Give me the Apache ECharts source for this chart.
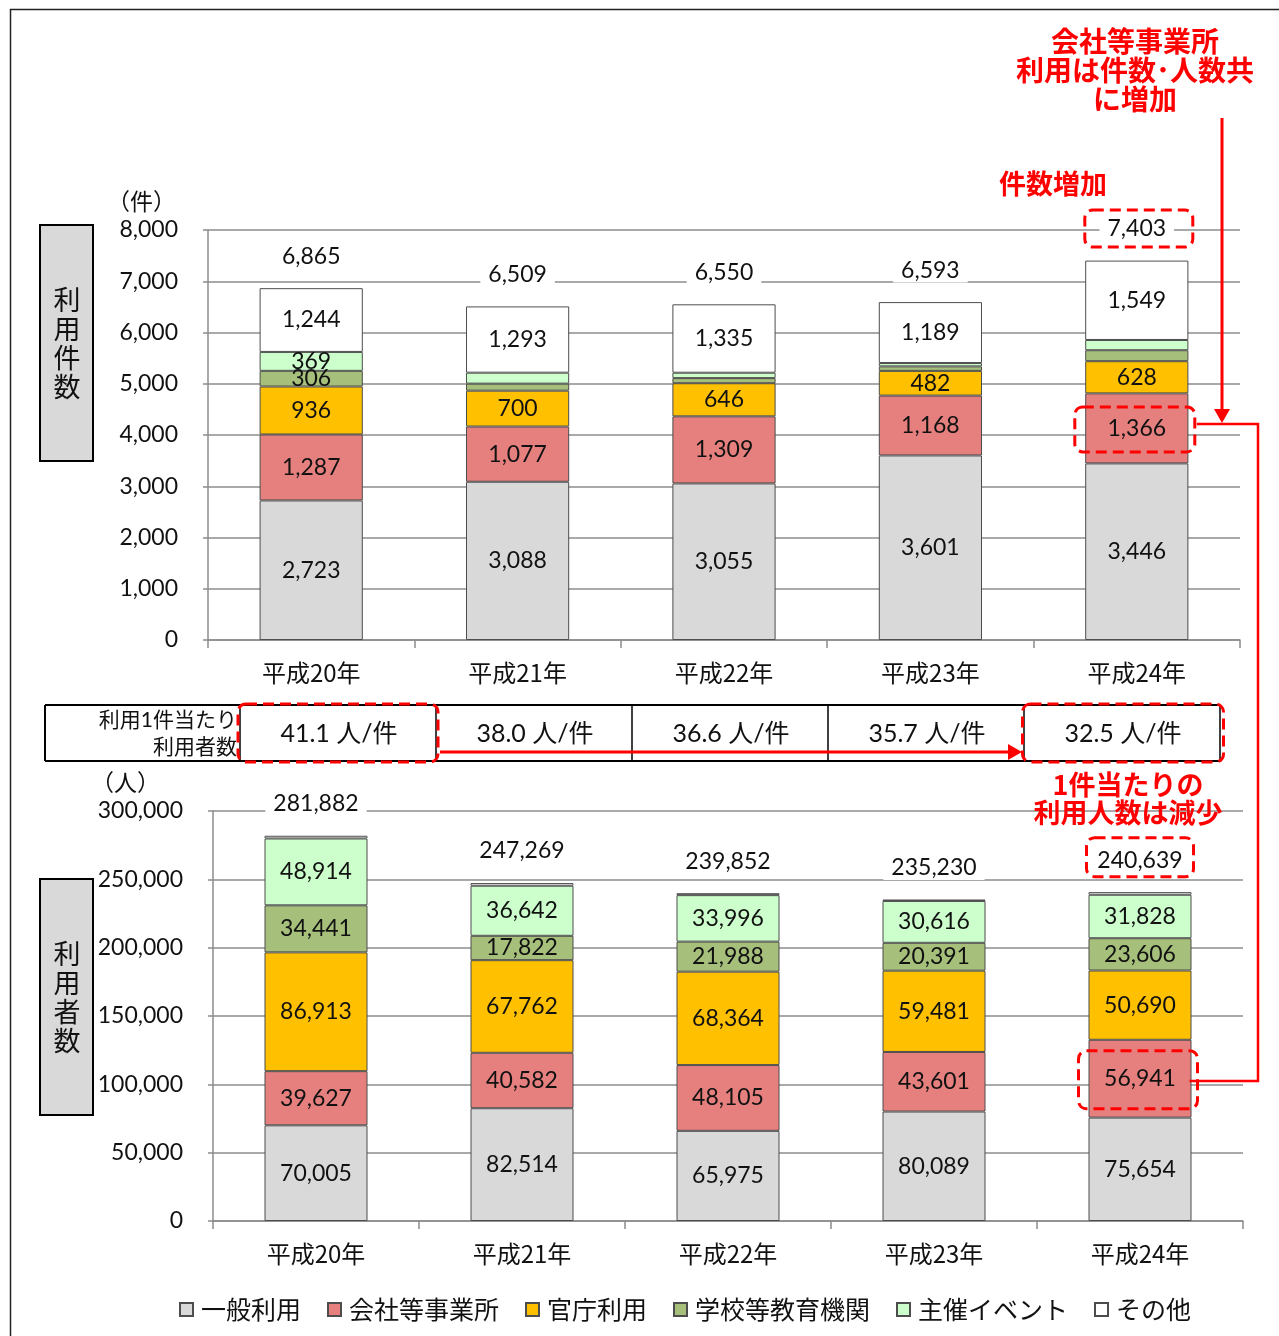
<!DOCTYPE html>
<html>
<head>
<meta charset="utf-8">
<script src="https://cdn.jsdelivr.net/npm/echarts@6/dist/echarts.min.js"></script>
<style>
  html, body { margin: 0; padding: 0; background: #fff; }
  #chart { width: 1279px; height: 1336px; }
</style>
</head>
<body>
<div id="chart"></div>
<script>
// ---- data -------------------------------------------------------------
const years = ['平成20年', '平成21年', '平成22年', '平成23年', '平成24年'];
const seriesNames = ['一般利用', '会社等事業所', '官庁利用', '学校等教育機関', '主催イベント', 'その他'];

// 利用件数 (件)
const casesGeneral = [2723, 3088, 3055, 3601, 3446];
const casesCompany = [1287, 1077, 1309, 1168, 1366];
const casesGov     = [936, 700, 646, 482, 628];
const casesSchool  = [306, 137, 100, 88, 214];
const casesEvent   = [369, 214, 105, 65, 200];
const casesOther   = [1244, 1293, 1335, 1189, 1549];
const casesTotal   = [6865, 6509, 6550, 6593, 7403];

// 利用者数 (人)
const usersGeneral = [70005, 82514, 65975, 80089, 75654];
const usersCompany = [39627, 40582, 48105, 43601, 56941];
const usersGov     = [86913, 67762, 68364, 59481, 50690];
const usersSchool  = [34441, 17822, 21988, 20391, 23606];
const usersEvent   = [48914, 36642, 33996, 30616, 31828];
const usersOther   = [1982, 1947, 1424, 1052, 1920];
const usersTotal   = [281882, 247269, 239852, 235230, 240639];

// 利用1件当たり利用者数 (人/件)
const perCase = ['41.1', '38.0', '36.6', '35.7', '32.5'];

// axis ranges
const casesAxis = { min: 0, max: 8000, interval: 1000 };
const usersAxis = { min: 0, max: 300000, interval: 50000 };

// ---- style ------------------------------------------------------------
const FONT = 'Lato, "Noto Sans CJK JP", sans-serif';
const JFONT = '"Noto Sans CJK JP", sans-serif';
const RED = '#ff0000';
const colors = ['#d9d9d9', '#e5807e', '#ffc000', '#a6c07b', '#ccffcc', '#ffffff'];
const gridColor = '#8c8c8c';
const fmt = v => Number(v).toLocaleString('en-US');

const chart = echarts.init(document.getElementById('chart'), null, { renderer: 'canvas' });

function stackSeries(arrs, g, minLabel) {
  return arrs.map((d, i) => ({
    name: seriesNames[i],
    type: 'bar',
    stack: 'total' + g,
    xAxisIndex: g,
    yAxisIndex: g,
    barWidth: '50%',
    data: d,
    itemStyle: { color: colors[i], borderColor: '#4d4d4d', borderWidth: 1 },
    label: {
      show: true,
      position: 'inside',
      fontFamily: FONT,
      fontSize: 23,
      color: '#111',
      formatter: p => (p.value >= minLabel ? fmt(p.value) : '')
    },
    emphasis: { disabled: true }
  }));
}

function totalSeries(data, g) {
  return {
    type: 'scatter',
    xAxisIndex: g,
    yAxisIndex: g,
    data: data,
    symbolSize: 1,
    itemStyle: { color: 'rgba(0,0,0,0)', opacity: 1 },
    z: 10,
    label: {
      show: true,
      position: 'top',
      distance: 19,
      fontFamily: FONT,
      fontSize: 23,
      color: '#111',
      opacity: 1,
      backgroundColor: '#fff',
      padding: [1, 8],
      formatter: p => fmt(p.value)
    },
    emphasis: { disabled: true }
  };
}

function valueAxis(g, range, name, namePad) {
  return {
    type: 'value',
    gridIndex: g,
    min: range.min, max: range.max, interval: range.interval,
    name: name,
    nameLocation: 'end',
    nameGap: 17,
    nameTextStyle: { fontFamily: JFONT, fontSize: 23, color: '#111', align: 'right', padding: [0, namePad, 0, 0] },
    axisLine: { show: true, lineStyle: { color: gridColor, width: 1.5 } },
    axisTick: { show: true, length: 5, lineStyle: { color: gridColor, width: 1.5 } },
    splitLine: { show: true, lineStyle: { color: gridColor, width: 1.5 } },
    axisLabel: { fontFamily: FONT, fontSize: 23, color: '#111', margin: 30, formatter: v => fmt(v) }
  };
}

function catAxis(g) {
  return {
    type: 'category',
    gridIndex: g,
    data: years,
    axisLine: { show: true, lineStyle: { color: gridColor, width: 1.5 } },
    axisTick: { show: true, length: 8, lineStyle: { color: gridColor, width: 1.5 } },
    axisLabel: { fontFamily: JFONT, fontSize: 24, color: '#111', margin: 21 }
  };
}

const option = {
  animation: false,
  backgroundColor: '#fff',
  grid: [
    { left: 208, top: 230, width: 1032, height: 410 },
    { left: 213, top: 811, width: 1030, height: 410 }
  ],
  xAxis: [catAxis(0), catAxis(1)],
  yAxis: [valueAxis(0, casesAxis, '（件）', 32), valueAxis(1, usersAxis, '（人）', 53)],
  legend: {
    data: seriesNames,
    top: 1292,
    left: 174,
    icon: 'rect',
    itemWidth: 13,
    itemHeight: 13,
    itemGap: 26,
    textStyle: { fontFamily: JFONT, fontSize: 25, color: '#111', padding: [0, 0, 0, 3] },
    selectedMode: false
  },
  series: [
    ...stackSeries([casesGeneral, casesCompany, casesGov, casesSchool, casesEvent, casesOther], 0, 250),
    totalSeries(casesTotal, 0),
    ...stackSeries([usersGeneral, usersCompany, usersGov, usersSchool, usersEvent, usersOther], 1, 5000),
    totalSeries(usersTotal, 1)
  ]
};

chart.setOption(option);

// ---- annotations --------------------------------------------------------
const px = (g, xi, v) => chart.convertToPixel({ xAxisIndex: g, yAxisIndex: g }, [xi, v]);

function dashedBox(cx, cy, w, h) {
  return {
    type: 'rect', z: 100,
    shape: { x: cx - w / 2, y: cy - h / 2, width: w, height: h, r: 8 },
    style: { fill: 'rgba(255,255,255,0)', stroke: RED, lineWidth: 3, lineDash: [11, 6] }
  };
}
function line(points, w) {
  return { type: 'polyline', z: 100, shape: { points: points }, style: { stroke: RED, lineWidth: w || 3, fill: null } };
}
function arrowHead(tipX, tipY, dir) {
  const s = 8, l = 14;
  const pts = dir === 'down'
    ? [[tipX, tipY], [tipX - s, tipY - l], [tipX + s, tipY - l]]
    : [[tipX, tipY], [tipX - l, tipY - s], [tipX - l, tipY + s]];
  return { type: 'polygon', z: 101, shape: { points: pts }, style: { fill: RED } };
}
function redText(x, y, text, size, lh) {
  return {
    type: 'text', z: 100, x: x, y: y,
    style: { text: text, fontFamily: JFONT, fontSize: size, fontWeight: 'bold', fill: RED,
             align: 'center', verticalAlign: 'middle', lineHeight: lh || size + 1 }
  };
}
function plainText(x, y, text, size, align) {
  return {
    type: 'text', z: 90, x: x, y: y,
    style: { text: text, fontFamily: FONT, fontSize: size, fill: '#111', align: align || 'center', verticalAlign: 'middle' }
  };
}

const last = years.length - 1;

// positions taken from the bars of the last year
const topTotalPt = px(0, last, casesTotal[last]);
const topCompanyPt = px(0, last, casesGeneral[last] + casesCompany[last] / 2);
const botTotalPt = px(1, last, usersTotal[last]);
const botCompanyPt = px(1, last, usersGeneral[last] + usersCompany[last] / 2);

const box1366 = { cx: topCompanyPt[0] - 2, cy: topCompanyPt[1] + 1, w: 120, h: 45 };
const box56941 = { cx: botCompanyPt[0] - 2, cy: botCompanyPt[1] + 1, w: 119, h: 58 };

// 1件当たり利用者数 table
const tblTop = 705, tblBot = 761, tblLeft = 45, firstCol = 240, colW = 196;
const table = [];
table.push({ type: 'line', z: 80, shape: { x1: tblLeft, y1: tblTop, x2: firstCol + colW * 5, y2: tblTop }, style: { stroke: '#000', lineWidth: 2 } });
table.push({ type: 'line', z: 80, shape: { x1: tblLeft, y1: tblBot, x2: firstCol + colW * 5, y2: tblBot }, style: { stroke: '#000', lineWidth: 2 } });
table.push({ type: 'line', z: 80, shape: { x1: tblLeft, y1: tblTop, x2: tblLeft, y2: tblBot }, style: { stroke: '#000', lineWidth: 2 } });
for (let i = 0; i <= 5; i++) {
  const x = firstCol + colW * i;
  table.push({ type: 'line', z: 80, shape: { x1: x, y1: tblTop, x2: x, y2: tblBot }, style: { stroke: '#000', lineWidth: 1.5 } });
}
table.push({
  type: 'text', z: 90, x: firstCol - 3, y: (tblTop + tblBot) / 2 + 1,
  style: { text: '利用1件当たり\n利用者数', fontFamily: FONT, fontSize: 21, lineHeight: 27, fill: '#111', align: 'right', verticalAlign: 'middle' }
});
perCase.forEach((v, i) => {
  table.push(plainText(firstCol + colW * i + colW / 2 + 1, (tblTop + tblBot) / 2 + 1, v + ' 人/件', 25));
});

const graphics = [
  // outer frame
  { type: 'rect', z: 0, shape: { x: 10.5, y: 9.5, width: 1300, height: 1360 }, style: { fill: null, stroke: '#222', lineWidth: 1.5 } },

  // vertical titles
  { type: 'rect', z: 50, shape: { x: 40, y: 225, width: 53, height: 236 }, style: { fill: '#d9d9d9', stroke: '#000', lineWidth: 2 } },
  { type: 'text', z: 51, x: 67, y: 343, style: { text: '利\n用\n件\n数', fontFamily: JFONT, fontSize: 27, lineHeight: 29, fill: '#111', align: 'center', verticalAlign: 'middle' } },
  { type: 'rect', z: 50, shape: { x: 40, y: 879, width: 53, height: 236 }, style: { fill: '#d9d9d9', stroke: '#000', lineWidth: 2 } },
  { type: 'text', z: 51, x: 67, y: 997, style: { text: '利\n用\n者\n数', fontFamily: JFONT, fontSize: 27, lineHeight: 29, fill: '#111', align: 'center', verticalAlign: 'middle' } },

  ...table,

  // dashed highlight boxes
  dashedBox(topTotalPt[0] + 2, topTotalPt[1] - 32, 108, 37),
  dashedBox(box1366.cx, box1366.cy, box1366.w, box1366.h),
  dashedBox(botTotalPt[0], botTotalPt[1] - 35, 107, 39),
  dashedBox(box56941.cx, box56941.cy, box56941.w, box56941.h),
  dashedBox(firstCol + colW / 2, (tblTop + tblBot) / 2, 200, 58),
  dashedBox(firstCol + colW * 4 + colW / 2 + 1, (tblTop + tblBot) / 2, 201, 58),

  // arrow along the table
  line([[firstCol + colW + 4, 752], [firstCol + colW * 4 - 16, 752]], 3),
  arrowHead(firstCol + colW * 4 - 2, 752, 'right'),

  // arrow from the top note down to the 1,366 box
  line([[1222, 118], [1222, 412]], 3),
  arrowHead(1222, 423, 'down'),

  // connector between 1,366 and 56,941
  line([[box1366.cx + box1366.w / 2 + 2, 424], [1258, 424], [1258, 1081], [box56941.cx + box56941.w / 2 - 8, 1081]], 2.5),

  // notes
  redText(1135, 70, '会社等事業所\n利用は件数･人数共\nに増加', 28, 29),
  redText(1053, 184, '件数増加', 27),
  redText(1128, 799, '1件当たりの\n利用人数は減少', 27, 28)
];

chart.setOption({ graphic: graphics });
</script>
</body>
</html>
